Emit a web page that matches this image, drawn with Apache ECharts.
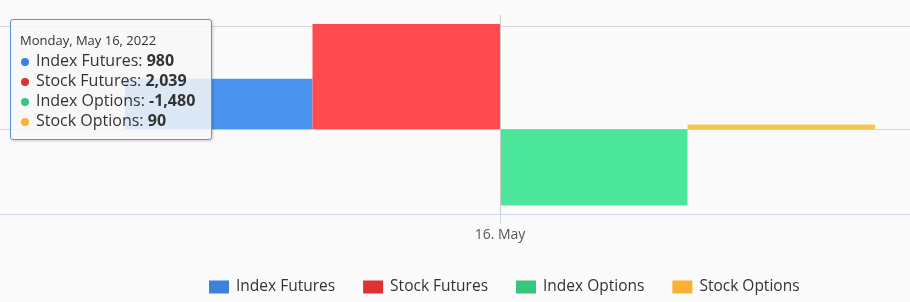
<!DOCTYPE html>
<html><head><meta charset="utf-8">
<script src="https://cdn.jsdelivr.net/npm/echarts@6/dist/echarts.min.js"></script>
<style>html,body{margin:0;padding:0;background:#fafafa}#c{width:910px;height:302px}</style>
</head><body><div id="c"></div>
<script>
const categories = ['16. May'];
const tooltipDates = ['Monday, May 16, 2022'];
const seriesNames = ['Index Futures', 'Stock Futures', 'Index Options', 'Stock Options'];
const indexFutures = [980];
const stockFutures = [2039];
const indexOptions = [-1480];
const stockOptions = [90];
const yGridValues = [0, 2000];
const yMin = -1645;
const yMax = 2215;

const seriesValues = [indexFutures, stockFutures, indexOptions, stockOptions];
const barColors = ['#4a94ef', '#ff4a4f', '#4ce69b', '#f9c74f'];
const keyColors = ['#3b82dc', '#dc3232', '#36c77f', '#f8b133'];
const FONT = "'Open Sans', 'Noto Sans', sans-serif";

const chart = echarts.init(document.getElementById('c'), null, {renderer: 'canvas'});

function fmt(v) { return Number(v).toLocaleString('en-US'); }

const series = seriesNames.map((name, i) => {
  const s = {
    name: name,
    type: 'bar',
    data: seriesValues[i],
    barGap: '0%',
    barCategoryGap: '25%',
    itemStyle: {color: barColors[i]},
    emphasis: {disabled: true},
    z: 2
  };
  if (i === 0) {
    s.markLine = {
      silent: true,
      z: 1,
      symbol: ['none', 'none'],
      label: {show: false},
      lineStyle: {color: '#d6d6d6', width: 1, type: 'solid'},
      emphasis: {disabled: true},
      data: yGridValues.map(v => ({yAxis: v}))
    };
  }
  return s;
});

chart.setOption({
  animation: false,
  backgroundColor: '#fafafa',
  grid: {left: 0, top: 15, width: 1000, height: 199, outerBoundsMode: 'none', containLabel: false},
  xAxis: {
    type: 'category',
    data: categories,
    boundaryGap: true,
    axisLine: {show: true, onZero: false, lineStyle: {color: '#ccd6eb', width: 1}},
    axisTick: {show: true, alignWithLabel: true, length: 10, lineStyle: {color: '#ccd6eb'}},
    axisLabel: {fontSize: 14, color: '#555555', margin: 14, fontFamily: FONT},
    splitLine: {show: false}
  },
  yAxis: {
    type: 'value',
    min: yMin,
    max: yMax,
    axisLine: {show: false},
    axisTick: {show: false},
    axisLabel: {show: false},
    splitLine: {show: false}
  },
  legend: {
    left: 209,
    top: 279,
    padding: 0,
    itemWidth: 20,
    itemHeight: 13,
    itemGap: 28,
    icon: 'rect',
    selectedMode: false,
    textStyle: {fontSize: 15.5, color: '#333333', fontFamily: FONT, padding: [0, 0, 0, 2]},
    data: seriesNames.map((n, i) => ({name: n, itemStyle: {color: keyColors[i]}}))
  },
  tooltip: {
    trigger: 'axis',
    triggerOn: 'none',
    alwaysShowContent: true,
    transitionDuration: 0,
    position: [10, 19],
    backgroundColor: 'rgba(247,247,247,0.85)',
    borderColor: '#5b93d8',
    borderWidth: 1,
    borderRadius: 3,
    padding: [10, 10, 9, 9],
    extraCssText: 'box-shadow: 1px 1px 3px rgba(0,0,0,0.18);',
    axisPointer: {type: 'line', lineStyle: {color: '#cccccc', width: 1, type: 'solid'}},
    formatter: function (params) {
      let h = '<div style="width:181px;font-family:' + FONT.replace(/'/g, '') + ';color:#333;white-space:nowrap">';
      h += '<div style="font-size:13px;line-height:20px">' + tooltipDates[params[0].dataIndex] + '</div>';
      params.forEach(p => {
        h += '<div style="font-size:16px;line-height:20px">' +
          '<span style="display:inline-block;width:8px;height:8px;border-radius:50%;background:' + keyColors[p.seriesIndex] +
          ';margin:0 7px 0 1px;vertical-align:middle"></span>' + p.seriesName + ': <b>' + fmt(p.value) + '</b></div>';
      });
      h += '</div>';
      return h;
    }
  },
  series: series
});

chart.dispatchAction({type: 'showTip', seriesIndex: 0, dataIndex: 0});
</script>
</body></html>
